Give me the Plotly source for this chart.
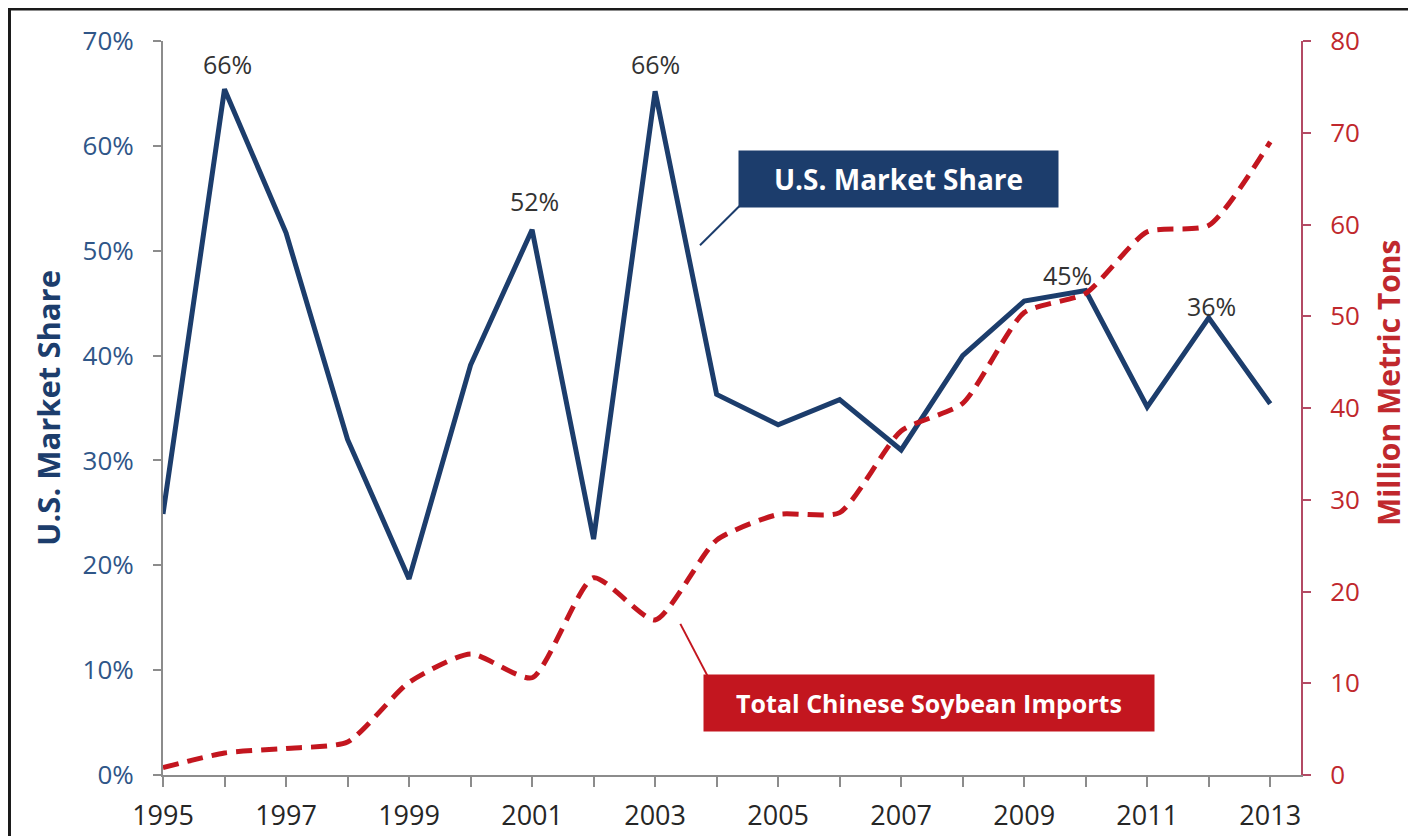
import plotly.graph_objects as go

# years on the x axis
years = list(range(1995, 2014))

# U.S. share of Chinese soybean imports (fraction)
us_share = [0.249, 0.654, 0.517, 0.320, 0.187, 0.391, 0.520, 0.225, 0.652, 0.363,
            0.334, 0.358, 0.310, 0.400, 0.452, 0.462, 0.351, 0.436, 0.354]

# total Chinese soybean imports (million metric tons)
china_imports = [0.8, 2.4, 2.9, 3.6, 10.1, 13.2, 10.6, 21.5, 16.9, 25.6,
                 28.4, 28.6, 37.5, 40.5, 50.4, 52.5, 59.2, 59.9, 69.0]

# data labels shown on the share line
label_years = [1996, 2001, 2003, 2010, 2012]
label_texts = ["66%", "52%", "66%", "45%", "36%"]
label_shifts = [(3, 25), (2, 29), (0, 27), (-18, 16), (3, 12)]

left_ticks = [0, 0.1, 0.2, 0.3, 0.4, 0.5, 0.6, 0.7]
right_ticks = [0, 10, 20, 30, 40, 50, 60, 70, 80]
x_ticktext = [str(y) if (y - 1995) % 2 == 0 else "" for y in years]

BLUE = "#1c3d6c"
RED = "#c3161f"
FONT = "Open Sans"

fig = go.Figure()

fig.add_trace(go.Scatter(
    x=years, y=china_imports, yaxis="y2", mode="lines",
    line=dict(color=RED, width=5, dash="16px,9px", shape="spline", smoothing=0.6),
    showlegend=False,
))
fig.add_trace(go.Scatter(
    x=years, y=us_share, mode="lines",
    line=dict(color=BLUE, width=5),
    showlegend=False,
))

# percent labels above selected points
for yr, txt, (dx, dy) in zip(label_years, label_texts, label_shifts):
    fig.add_annotation(
        x=yr, y=us_share[years.index(yr)], text=txt, showarrow=False,
        xshift=dx, yshift=dy, font=dict(family=FONT, size=25, color="#333333"),
    )

# call-out boxes
fig.add_annotation(
    x=2006.96, y=0.5687, text="<b>U.S. Market Share</b>", showarrow=False,
    bgcolor=BLUE, width=317, height=54,
    font=dict(family=FONT, size=28, color="white"),
)
fig.add_shape(type="line", x0=2004.38, y0=0.5431, x1=2003.73, y1=0.5052,
              line=dict(color=BLUE, width=2))

fig.add_annotation(
    x=2007.455, y=0.0682, text="<b>Total Chinese Soybean Imports</b>", showarrow=False,
    bgcolor=RED, width=448, height=54,
    font=dict(family=FONT, size=25, color="white"),
)
fig.add_shape(type="line", x0=2003.41, y0=0.1441, x1=2003.85, y1=0.0948,
              line=dict(color=RED, width=2))

# right axis title, sits a little above the middle
fig.add_annotation(
    xref="paper", yref="paper", x=1.0765, y=0.534, textangle=-90,
    xanchor="center", yanchor="middle",
    text="<b>Million Metric Tons</b>", showarrow=False,
    font=dict(family=FONT, size=30, color="#c0282d"),
)

# outer frame (figure edge)
fig.add_shape(type="rect", xref="paper", yref="paper",
              x0=-0.1349, y0=-0.3, x1=1.3, y1=1.0435,
              line=dict(color="#1a1a1a", width=3), layer="below")

fig.update_layout(
    width=1408, height=828,
    margin=dict(l=155, r=115, t=33, b=61, autoexpand=False),
    paper_bgcolor="white", plot_bgcolor="white",
    font=dict(family=FONT),
    xaxis=dict(
        range=[1995, 2013.5], tickvals=years, ticktext=x_ticktext, automargin=False,
        showgrid=False, zeroline=False, showline=True, linecolor="#8c8c8c", linewidth=2,
        ticks="outside", ticklen=10, tickcolor="#8c8c8c", tickwidth=1.5,
        tickfont=dict(size=27, color="#262626"), ticklabelstandoff=6,
    ),
    yaxis=dict(
        range=[0, 0.7], tickvals=left_ticks, tickformat=".0%", automargin=False,
        showgrid=False, zeroline=False, showline=True, linecolor="#8c8c8c", linewidth=2,
        ticks="outside", ticklen=8, tickcolor="#8c8c8c", tickwidth=1.5,
        tickfont=dict(size=26, color="#2f5688"), ticklabelstandoff=14,
        title=dict(text="<b>U.S. Market Share</b>", standoff=13,
                   font=dict(size=31, color=BLUE)),
    ),
    yaxis2=dict(
        range=[0, 80], tickvals=right_ticks, overlaying="y", side="right", automargin=False,
        showgrid=False, zeroline=False, showline=True, linecolor="#b34a64", linewidth=2,
        ticks="outside", ticklen=8, tickcolor="#b34a64", tickwidth=1.5,
        tickfont=dict(size=26, color="#c0282d"), ticklabelstandoff=14,
    ),
)

fig.write_html("out.html")
